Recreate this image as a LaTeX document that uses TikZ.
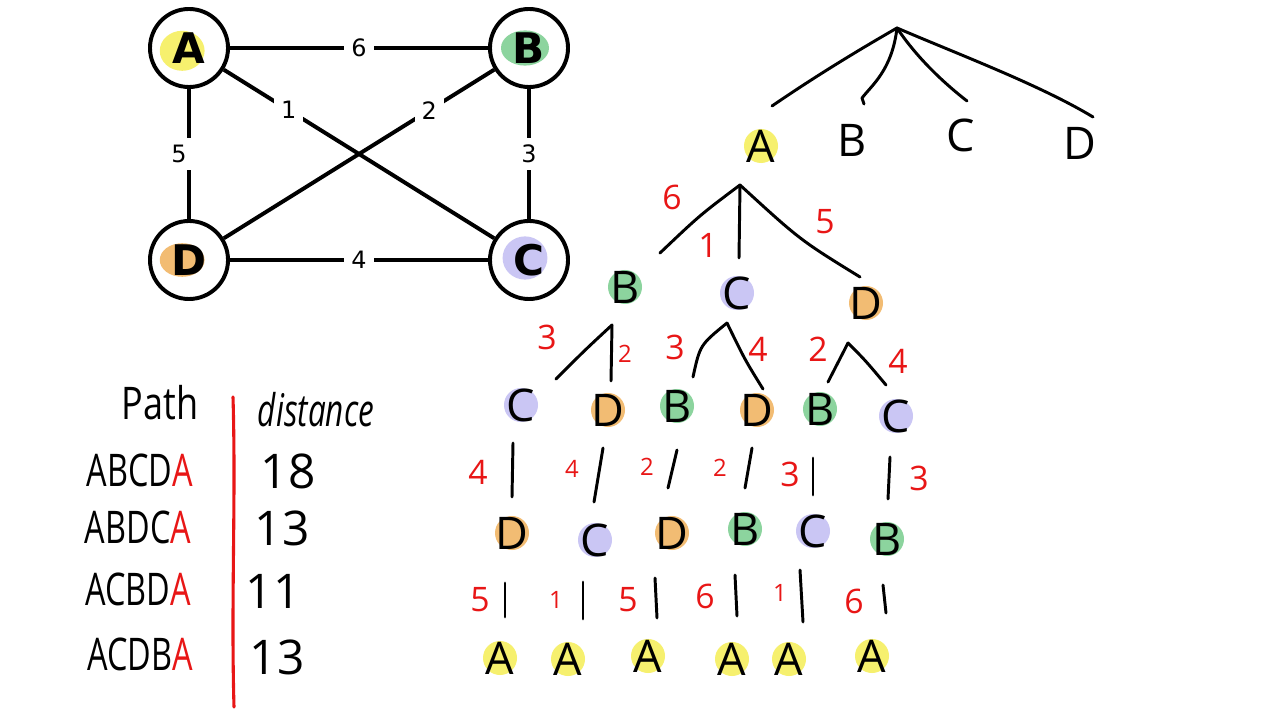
\documentclass[tikz,border=0pt]{standalone}
\usepackage{fontspec}
\usepackage{graphicx}
\setmainfont{DejaVu Sans}
\newfontfamily\hand{Open Sans}
\definecolor{hy}{RGB}{246,240,110}
\definecolor{hg}{RGB}{140,212,158}
\definecolor{ho}{RGB}{242,188,115}
\definecolor{hv}{RGB}{202,198,244}
\definecolor{pen}{RGB}{232,22,22}
\newcommand\hlet[4]{%
  \node[blob,fill=#2] at (#1) {};
  \node[hw] (#3) at (#1) {#4};}
\begin{document}
\begin{tikzpicture}[x=0.025cm,y=-0.025cm,
  gnode/.style={circle,draw,line width=2.8pt,minimum size=1.95cm,inner sep=0pt,font=\bfseries\fontsize{30}{30}\selectfont},
  gedge/.style={line width=2.8pt},
  elabel/.style={fill=white,inner sep=5pt,font=\fontsize{17}{17}\selectfont},
  hw/.style={font=\hand\fontsize{32}{32}\selectfont,inner sep=0pt},
  blob/.style={circle,minimum size=0.85cm,inner sep=0pt},
  hwline/.style={line width=2.1pt,line cap=round,line join=round},
  wt/.style={text=pen,font=\hand\fontsize{24}{24}\selectfont,inner sep=0pt},
  wts/.style={text=pen,font=\hand\fontsize{17}{17}\selectfont,inner sep=0pt},
  tab/.style={font=\hand\fontsize{32}{32}\selectfont,inner sep=0pt},
  num/.style={font=\hand\fontsize{34}{34}\selectfont,inner sep=0pt}
]
\useasboundingbox[fill=white] (0,0) rectangle (1280,720);

% ---------- graph ----------
\node[gnode,path picture={\fill[hy] ([xshift=-0.17cm,yshift=-0.07cm]path picture bounding box.center) ellipse (0.56cm and 0.5cm);}] (A) at (189,48) {A};
\node[gnode,path picture={\fill[hg] ([xshift=-0.1cm]path picture bounding box.center) ellipse (0.6cm and 0.44cm);}] (B) at (529,48) {B};
\node[gnode,path picture={\fill[ho] ([xshift=-0.17cm]path picture bounding box.center) ellipse (0.56cm and 0.42cm);}] (D) at (189,260) {D};
\node[gnode,path picture={\fill[hv] ([xshift=-0.1cm,yshift=0.05cm]path picture bounding box.center) ellipse (0.56cm and 0.54cm);}] (C) at (529,260) {C};

\draw[gedge] (A) -- node[elabel]{6} (B);
\draw[gedge] (A) -- node[elabel,xshift=-0.25cm]{5} (D);
\draw[gedge] (B) -- node[elabel]{3} (C);
\draw[gedge] (D) -- node[elabel]{4} (C);
\draw[gedge] (A) -- node[elabel,pos=0.24]{1} (C);
\draw[gedge] (B) -- node[elabel,pos=0.24]{2} (D);

% ---------- top tree ----------
\coordinate (R) at (897,28);
\coordinate (tA) at (772,106);
\coordinate (tB) at (864,104);
\coordinate (tC) at (967,101);
\coordinate (tD) at (1093,117);
\draw[hwline] (R) .. controls (850,55) and (810,80) .. (tA);
\draw[hwline] (R) .. controls (892,70) and (872,85) .. (862,98) -- (tB);
\draw[hwline] (R) .. controls (915,55) and (940,80) .. (tC);
\draw[hwline] (R) .. controls (960,55) and (1040,85) .. (tD);

\hlet{761,146}{hy}{A0}{A}
\node[hw] (B0) at (852,140) {B};
\node[hw] (C0) at (961,135) {C};
\node[hw] (D0) at (1080,143) {D};

% level 1
\coordinate (J1) at (740,185);
\coordinate (e1a) at (660,253);
\coordinate (e1b) at (739,258);
\coordinate (e1c) at (860,277);
\draw[hwline] (J1) .. controls (700,215) .. (e1a);
\draw[hwline] (J1) -- (e1b);
\draw[hwline] (J1) .. controls (800,240) .. (e1c);
\node[wt] (w6) at (672,197) {6};
\node[wt] (w1) at (708,245) {1};
\node[wt] (w5) at (825,222) {5};

\hlet{625,287}{hg}{B1}{B}
\hlet{737,293}{hv}{C1}{C}
\hlet{866,303}{ho}{D1}{D}

% level 2
\coordinate (J2a) at (612,325);
\coordinate (e2a) at (556,379);
\coordinate (e2b) at (611,381);
\draw[hwline] (J2a) .. controls (585,350) .. (e2a);
\draw[hwline] (J2a) -- (e2b);
\coordinate (J2b) at (727,323);
\coordinate (e2c) at (693,377);
\coordinate (e2d) at (763,389);
\draw[hwline] (J2b) .. controls (700,345) .. (e2c);
\draw[hwline] (J2b) .. controls (745,360) .. (e2d);
\coordinate (J2c) at (848,343);
\coordinate (e2e) at (828,382);
\coordinate (e2f) at (886,385);
\draw[hwline] (J2c) -- (e2e);
\draw[hwline] (J2c) .. controls (865,360) .. (e2f);
\node[wt] (w3a) at (547,337) {3};
\node[wts] (w2a) at (625,354) {2};
\node[wt] (w3b) at (675,347) {3};
\node[wt] (w4a) at (758,349) {4};
\node[wt] (w2b) at (818,349) {2};
\node[wt] (w4b) at (898,361) {4};

\hlet{521,405}{hv}{C2a}{C}
\hlet{608,410}{ho}{D2a}{D}
\hlet{677,406}{hg}{B2a}{B}
\hlet{757,410}{ho}{D2b}{D}
\hlet{820,409}{hg}{B2b}{B}
\hlet{896,416}{hv}{C2b}{C}

% level 3
\coordinate (s1) at (513,443); \coordinate (f1) at (512,497);
\coordinate (s2) at (603,448); \coordinate (f2) at (594,502);
\coordinate (s3) at (677,450); \coordinate (f3) at (668,488);
\coordinate (s4) at (752,448); \coordinate (f4) at (745,488);
\coordinate (s5) at (813,458); \coordinate (f5) at (813,495);
\coordinate (s6) at (890,457); \coordinate (f6) at (888,499);
\foreach \i in {1,...,6} {\draw[hwline] (s\i) -- (f\i);}
\node[wt] (w4c) at (478,472) {4};
\node[wts] (w4d) at (572,469) {4};
\node[wts] (w2c) at (647,467) {2};
\node[wts] (w2d) at (720,468) {2};
\node[wt] (w3c) at (790,474) {3};
\node[wt] (w3d) at (919,478) {3};

\hlet{512,533}{ho}{D3a}{D}
\hlet{595,540}{hv}{C3a}{C}
\hlet{672,533}{ho}{D3b}{D}
\hlet{745,529}{hg}{B3a}{B}
\hlet{813,531}{hv}{C3b}{C}
\hlet{887,539}{hg}{B3b}{B}

% level 4
\coordinate (u1) at (505,583); \coordinate (v1) at (505,617);
\coordinate (u2) at (583,582); \coordinate (v2) at (583,619);
\coordinate (u3) at (655,578); \coordinate (v3) at (657,618);
\coordinate (u4) at (735,575); \coordinate (v4) at (737,616);
\coordinate (u5) at (800,570); \coordinate (v5) at (803,622);
\coordinate (u6) at (883,585); \coordinate (v6) at (886,613);
\foreach \i in {1,...,6} {\draw[hwline] (u\i) -- (v\i);}
\node[wt] (w5a) at (480,600) {5};
\node[wts] (w1a) at (556,600) {1};
\node[wt] (w5b) at (628,600) {5};
\node[wt] (w6a) at (705,596) {6};
\node[wts] (w1b) at (780,593) {1};
\node[wt] (w6b) at (854,601) {6};

\hlet{500,658}{hy}{A4a}{A}
\hlet{568,659}{hy}{A4b}{A}
\hlet{648,656}{hy}{A4c}{A}
\hlet{732,659}{hy}{A4d}{A}
\hlet{789,659}{hy}{A4e}{A}
\hlet{872,656}{hy}{A4f}{A}

% ---------- table ----------
\node[tab] (hp) at (160,403) {\scalebox{0.8}[1]{Path}};
\node[tab] (hd) at (316,410) {\scalebox{0.7}[1]{\itshape distance}};
\draw[pen,line width=2.2pt,line cap=round] (233,397) .. controls (236,500) and (231,600) .. (234,707);
\node[tab] (p1) at (140,470) {\scalebox{0.72}[1]{ABCD\textcolor{pen}{A}}};
\node[tab] (p2) at (138,527) {\scalebox{0.72}[1]{ABDC\textcolor{pen}{A}}};
\node[tab] (p3) at (138,589) {\scalebox{0.72}[1]{ACBD\textcolor{pen}{A}}};
\node[tab] (p4) at (140,654) {\scalebox{0.72}[1]{ACDB\textcolor{pen}{A}}};
\node[num] (d1) at (288,471) {18};
\node[num] (d2) at (282,528) {13};
\node[num] (d3) at (273,591) {11};
\node[num] (d4) at (277,657) {13};
\end{tikzpicture}
\end{document}
